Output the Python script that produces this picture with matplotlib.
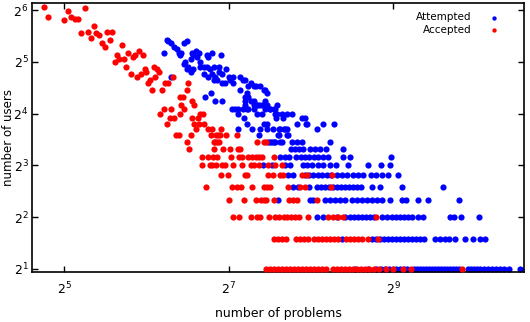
import matplotlib
matplotlib.use('Agg')
import matplotlib.pyplot as plt
import numpy as np

# Attempted: scattered upper part (number of problems, number of users)
att_x = [76, 77, 79, 74, 81, 83, 84, 85, 86, 88, 90, 94, 95, 97, 98, 93, 88, 89, 91, 90,
         93, 95, 101, 100, 107, 108, 111, 120, 101, 104, 107, 109, 113, 118, 111, 114, 118, 121, 125, 116,
         121, 124, 130, 133, 133, 128, 141, 144, 154, 79, 104, 108, 113, 147, 151, 158, 161, 167, 105, 110,
         114, 121, 149, 151, 154, 147, 158, 163, 169, 174, 177, 172, 141, 147, 147, 158, 165, 172, 174, 177,
         182, 192]
att_y = [43, 42, 41, 36, 39, 38, 36, 35, 36, 41, 42, 36, 35, 37, 34, 33, 31, 32, 30, 29,
         28, 29, 32, 36, 35, 34, 36, 35, 30, 30, 30, 29, 30, 30, 27, 26, 28, 27, 29, 25,
         24, 24, 25, 24, 26, 26, 26, 25, 24, 26, 27, 26, 25, 25, 23, 23, 23, 23, 20, 21,
         19, 19, 21, 20, 19, 19, 19, 18, 18, 19, 21, 22, 22, 20, 18, 18, 18, 18, 22, 18,
         17, 18]

# Attempted: rows of equal user counts -> problems
att_rows = {
    17: [132, 135, 139, 145, 149, 151, 159, 174, 182, 187, 189],
    16: [138, 163, 169, 189, 192, 200, 209, 218],
    15: [146, 191, 203, 237, 244],
    14: [150, 173, 177, 228, 246, 248, 283, 310],
    13: [138, 156, 167, 177, 186, 195, 198, 204, 206, 210, 270],
    12: [166, 194, 196, 209, 211],
    11: [179, 182, 184, 187, 189, 198, 200, 218, 227, 237, 301],
    10: [217, 224, 232, 240, 254, 265, 277, 291, 336],
    9: [198, 206, 213, 226, 236, 244, 252, 263, 272, 284, 296, 336, 356, 503],
    8: [171, 184, 206, 215, 240, 248, 259, 272, 284, 301, 317, 350, 414, 462, 499],
    7: [211, 220, 244, 252, 261, 272, 281, 294, 304, 319, 333, 347, 365, 381, 397, 425, 443,
        466, 490, 534],
    6: [220, 230, 252, 270, 279, 289, 298, 309, 319, 330, 341, 353, 365, 378, 391, 429, 459,
        552, 782],
    5: [194, 254, 261, 289, 301, 314, 327, 341, 362, 378, 394, 411, 429, 447, 466, 499, 552,
        571, 632, 689, 894],
    4: [270, 284, 319, 341, 356, 368, 381, 394, 408, 422, 436, 466, 486, 508, 525, 543, 562,
        581, 601, 632, 660, 829, 857, 909, 1059],
    3: [333, 429, 443, 459, 474, 490, 508, 525, 543, 562, 581, 601, 622, 643, 665, 730, 761,
        794, 821, 864, 940, 1005, 1066, 1112],
    2: [371, 414, 443, 462, 478, 495, 525, 543, 562, 576, 611, 627, 643, 659, 676, 694, 711,
        730, 748, 767, 787, 807, 828, 849, 871, 893, 964, 988, 1014, 1040, 1066, 1103, 1141,
        1180, 1220, 1262, 1305, 1362, 1494],
}

# Accepted: scattered upper part
acc_x = [27, 28, 32, 33, 34, 35, 36, 37, 38, 39, 40, 41, 42, 43, 44, 45, 46, 47, 48, 49,
         50, 51, 52, 53, 54, 55, 56, 57, 58, 59, 60, 61, 62, 63, 64, 65, 66, 67, 68, 69,
         70, 71, 73, 74, 75, 77, 79, 80, 85, 86, 87, 88, 90, 91, 96,
         72, 76, 78, 81, 85, 94, 101, 103, 96, 100, 104, 97, 99, 82, 84, 93, 108, 111, 110, 120,
         119, 117, 115, 125, 113, 114, 116, 118, 90, 137, 163, 173, 176, 94]
acc_y = [67, 58, 56, 63, 58, 57, 57, 47, 66, 48, 44, 52, 47, 46, 41, 39, 48, 43, 48, 32,
         35, 33, 40, 33, 30, 36, 27, 34, 35, 26, 37, 27, 35, 29, 28, 24, 25, 22, 30, 26,
         29, 28, 22, 17, 24, 24, 17, 26, 20, 18, 20, 17, 22, 24, 18,
         16, 14, 15, 15, 16, 15, 16, 16, 14, 14, 14, 13, 15, 12, 12, 12, 13, 13, 12, 13,
         12, 12, 12, 12, 11, 11, 11, 11, 11, 12, 11, 11, 11, 19]

# Accepted: rows of equal user counts -> problems
acc_rows = {
    10: [92, 113, 122, 130, 139, 141],
    9: [102, 108, 112, 116, 131, 140, 143, 151, 156, 161, 165, 170, 188],
    8: [102, 109, 111, 115, 121, 124, 133, 143, 154, 158, 166, 179, 189, 201],
    7: [120, 127, 147, 150, 179, 186, 198, 203, 238, 248, 306],
    6: [106, 132, 137, 142, 156, 172, 177, 182, 211, 234, 244, 304],
    5: [128, 146, 161, 168, 172, 175, 188, 213, 220, 228, 270],
    4: [133, 140, 155, 162, 167, 180, 190, 196, 204, 210, 217, 224, 232, 250, 296, 309, 322,
        336, 443],
    3: [188, 194, 201, 208, 226, 234, 242, 250, 263, 272, 281, 291, 301, 311, 322, 344, 356,
        368, 381, 394, 414, 451],
    2: [176, 182, 188, 194, 201, 208, 215, 222, 230, 238, 246, 254, 263, 272, 281, 291, 309,
        319, 330, 341, 353, 365, 378, 391, 404, 418, 436, 455, 482, 512, 557, 595, 917],
}


def collect(xs, ys, rows):
    px = list(xs)
    py = list(ys)
    for users, probs in rows.items():
        px += probs
        py += [users] * len(probs)
    return np.array(px), np.array(py)


ax_att, ay_att = collect(att_x, att_y, att_rows)
ax_acc, ay_acc = collect(acc_x, acc_y, acc_rows)

fig = plt.figure(figsize=(5.3, 3.22), dpi=100)
ax = fig.add_axes([0.0604, 0.1553, 0.9283, 0.8354])

ax.scatter(ax_att, ay_att, s=20, c='#0000ff', linewidths=0, label='Attempted', zorder=2)
ax.scatter(ax_acc, ay_acc, s=20, c='#ff0000', linewidths=0, label='Accepted', zorder=3)

ax.set_xscale('log', base=2)
ax.set_yscale('log', base=2)
ax.set_xlim(24.4, 1545)
ax.set_ylim(1.92, 70.3)
ax.set_xticks([32, 128, 512])
ax.set_xticklabels([r'$2^{5}$', r'$2^{7}$', r'$2^{9}$'])
ax.set_yticks([2, 4, 8, 16, 32, 64])
ax.set_yticklabels([r'$2^{%d}$' % k for k in range(1, 7)])
ax.minorticks_off()
ax.tick_params(direction='in', top=True, right=True, length=4, width=1,
               labelsize=9, pad=6)
ax.tick_params(axis='y', pad=2.5)
for sp in ax.spines.values():
    sp.set_linewidth(1.2)

ax.set_xlabel('number of problems', fontsize=9, labelpad=7)
ax.set_ylabel('number of users', fontsize=8.5)
ax.yaxis.set_label_coords(-0.035, 0.5)

ax.legend(loc='upper right', bbox_to_anchor=(0.9496, 0.9654), frameon=False,
          markerfirst=False, fontsize=7.5, handlelength=1, handletextpad=1.7,
          borderpad=0, borderaxespad=0, labelspacing=0.25, markerscale=0.7)

fig.savefig('out.png', dpi=100)
